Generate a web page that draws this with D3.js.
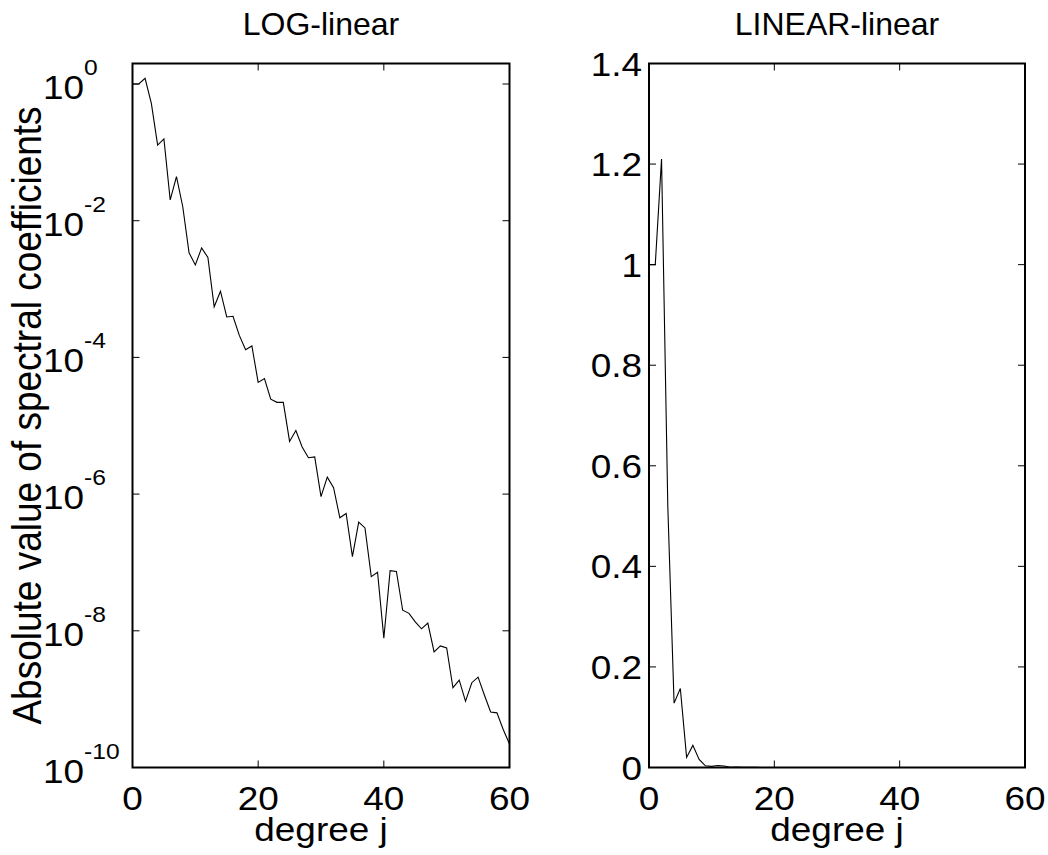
<!DOCTYPE html>
<meta charset="utf-8">
<script src="https://d3js.org/d3.v7.min.js"></script>
<style>
  body { margin: 0; background: #fff; }
  text { font-family: "Liberation Sans", Arial, Helvetica, sans-serif; fill: #000; }
</style>
<body>
<div id="chart"></div>
<script>
// degree j and |coefficient|
var degrees = d3.range(0, 61);
var coeffs = [
  1, 1, 1.21, 0.52, 0.128, 0.157, 0.0201, 0.044, 0.016, 3.4e-3,
  2.25e-3, 4.0e-3, 2.9e-3, 5.5e-4, 9.3e-4, 3.9e-4, 4.0e-4, 2.1e-4, 1.3e-4, 1.47e-4,
  4.3e-5, 4.9e-5, 2.45e-5, 2.2e-5, 2.2e-5, 5.9e-6, 8.5e-6, 4.9e-6, 3.4e-6, 3.5e-6,
  9.2e-7, 1.77e-6, 1.24e-6, 4.5e-7, 5.2e-7, 1.22e-7, 3.9e-7, 3.2e-7, 6.2e-8, 7.2e-8,
  7.8e-9, 7.6e-8, 7.4e-8, 2.0e-8, 1.8e-8, 1.35e-8, 1.07e-8, 1.3e-8, 4.9e-9, 6.0e-9,
  5.6e-9, 1.47e-9, 1.9e-9, 9.3e-10, 1.74e-9, 2.1e-9, 1.15e-9, 6.5e-10, 6.3e-10, 3.6e-10,
  2.2e-10
];
var xTicks = [0, 20, 40, 60];
var logTickExps = [0, -2, -4, -6, -8, -10];
var linTicks = [0, 0.2, 0.4, 0.6, 0.8, 1, 1.2, 1.4];
var titles = ["LOG-linear", "LINEAR-linear"];

var W = 1048, H = 855;
var plotTop = 63.5, plotBottom = 767.5;
var panels = [{left: 132.5, right: 509.5}, {left: 649, right: 1025}];
var fs = 33, sx = 1.12, tickLen = 7;

var svg = d3.select("#chart").append("svg")
  .attr("width", W).attr("height", H);

var data = degrees.map(function(d, i) { return {x: d, y: coeffs[i]}; });

// the original glyphs run a little wider than Helvetica
function label(parent, x, y, str, size, anchor, stretch) {
  return parent.append("text")
    .attr("transform", "translate(" + x + "," + y + ") scale(" + (stretch || sx) + ",1)")
    .attr("text-anchor", anchor || "middle")
    .style("font-size", size + "px")
    .text(str);
}

panels.forEach(function(p, k) {
  var x = d3.scaleLinear().domain([0, 60]).range([p.left, p.right]);
  var y = k === 0
    ? d3.scaleLog().domain([1e-10, Math.pow(10, 0.3)]).range([plotBottom, plotTop])
    : d3.scaleLinear().domain([0, 1.4]).range([plotBottom, plotTop]);
  var yt = k === 0 ? logTickExps.map(function(e) { return Math.pow(10, e); }) : linTicks;

  var g = svg.append("g");

  // inside ticks on all four sides
  var ticks = g.append("g").attr("stroke", "#000").attr("stroke-width", 1);
  xTicks.forEach(function(t) {
    ticks.append("line").attr("x1", x(t)).attr("x2", x(t)).attr("y1", plotBottom).attr("y2", plotBottom - tickLen);
    ticks.append("line").attr("x1", x(t)).attr("x2", x(t)).attr("y1", plotTop).attr("y2", plotTop + tickLen);
  });
  yt.forEach(function(t) {
    ticks.append("line").attr("x1", p.left).attr("x2", p.left + tickLen).attr("y1", y(t)).attr("y2", y(t));
    ticks.append("line").attr("x1", p.right).attr("x2", p.right - tickLen).attr("y1", y(t)).attr("y2", y(t));
  });

  // data line
  g.append("path")
    .datum(data)
    .attr("fill", "none")
    .attr("stroke", "#000")
    .attr("stroke-width", 1.1)
    .attr("d", d3.line().x(function(d) { return x(d.x); }).y(function(d) { return y(d.y); }));

  // box
  g.append("rect")
    .attr("x", p.left).attr("y", plotTop)
    .attr("width", p.right - p.left).attr("height", plotBottom - plotTop)
    .attr("fill", "none").attr("stroke", "#000").attr("stroke-width", 2);

  // x tick labels
  xTicks.forEach(function(t) {
    label(g, x(t), plotBottom + 42, t, fs);
  });

  // y tick labels
  if (k === 0) {
    logTickExps.forEach(function(e) {
      var ty = y(Math.pow(10, e));
      label(g, 84, ty + 15, "10", fs, "end");
      label(g, 84, ty - 9, e, 22, "start");
    });
  } else {
    linTicks.forEach(function(t) {
      label(g, p.left - 7, y(t) + 12, d3.format("~g")(t), fs, "end");
    });
  }

  label(g, (p.left + p.right) / 2, plotBottom + 73, "degree j", fs);
  label(g, (p.left + p.right) / 2, 35, titles[k], 32, "middle", 1.0);
});

svg.append("text")
  .attr("transform", "translate(41," + ((plotTop + plotBottom) / 2) + ") scale(1.12,1) rotate(-90)")
  .attr("text-anchor", "middle").style("font-size", "37px")
  .text("Absolute value of spectral coefficients");
</script>
</body>
